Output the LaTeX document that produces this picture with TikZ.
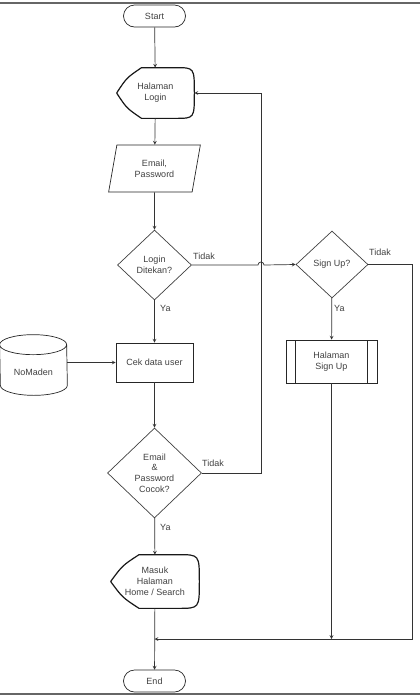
\documentclass[tikz,border=0pt]{standalone}
\usepackage{fontspec}
\setmainfont{Liberation Sans}
\usetikzlibrary{arrows, positioning, shapes.geometric, calc}

\tikzset{
  box/.style={draw=black!85, line width=0.7pt, text=black!75, align=center, inner sep=0pt,
    font=\fontsize{9}{10.8}\selectfont},
  term/.style={box, rectangle, rounded corners=11pt, minimum width=62pt, minimum height=22pt},
  proc/.style={box, rectangle, minimum width=77pt, minimum height=39pt},
  subproc/.style={box, rectangle, minimum width=91pt, minimum height=43pt,
    path picture={\draw[black!85, line width=0.7pt]
      ([xshift=9.5pt]path picture bounding box.north west) -- ([xshift=9.5pt]path picture bounding box.south west)
      ([xshift=-9.5pt]path picture bounding box.north east) -- ([xshift=-9.5pt]path picture bounding box.south east);}},
  decision/.style={box, diamond, draw=black!75},
  io/.style={box, trapezium, trapezium left angle=76, trapezium right angle=104,
    trapezium stretches=true, minimum width=92pt, minimum height=47pt},
  disp/.style={box, draw=none, rectangle},
  lbl/.style={text=black!75, anchor=west, inner sep=0pt, font=\fontsize{9}{10.8}\selectfont},
  line/.style={draw=black!80, line width=0.7pt, >=stealth},
}

% outline of a display shape round a named node
\newcommand{\dispoutline}[1]{%
  \draw[black!90, line width=1.2pt]
    (#1.west) .. controls ($(#1.west)!0.5!($(#1.north west)!0.32!(#1.north east)$)+(-2.5,-2.5)$)
      .. ($(#1.north west)!0.32!(#1.north east)$)
    -- ($(#1.north west)!0.76!(#1.north east)$) .. controls (#1.north east) .. (#1.east)
    .. controls (#1.south east) .. ($(#1.south west)!0.76!(#1.south east)$)
    -- ($(#1.south west)!0.32!(#1.south east)$)
    .. controls ($(#1.west)!0.5!($(#1.south west)!0.32!(#1.south east)$)+(-2.5,2.5)$) .. (#1.west);
}

\begin{document}
\begin{tikzpicture}[x=1pt, y=-1pt]
\useasboundingbox (0,0) rectangle (420,697);
\draw[black!60, line width=1.5pt] (0,3) -- (420,3) (0,694) -- (420,694);

\node[term] (start) at (154.5,16) {Start};
\node[disp, minimum width=77pt, minimum height=50pt] (login) at (155.5,93) {Halaman\\Login};
\dispoutline{login}
\node[io] (cred) at (154.5,168.5) {Email,\\Password};
\node[decision, minimum width=74pt, minimum height=70pt] (ditekan) at (154.5,265) {Login\\Ditekan?};
\node[decision, minimum width=72pt, minimum height=67pt] (signup) at (332,264.5) {Sign Up?};
\node[subproc] (supage) at (331.5,361.5) {Halaman\\Sign Up};
\node[disp, minimum width=67pt, minimum height=60pt,
  label={[lbl, anchor=center, yshift=-7pt]center:NoMaden}] (db) at (33.5,365) {};
\node[proc] (cek) at (154.5,362.5) {Cek data user};
\node[decision, minimum width=94pt, minimum height=90pt] (cocok) at (154.5,473) {Email\\\&\\Password\\Cocok?};
\node[disp, minimum width=88pt, minimum height=53pt] (masuk) at (155,581.5) {Masuk\\Halaman\\Home / Search};
\dispoutline{masuk}
\node[term] (stop) at (154.5,681) {End};

% database cylinder
\draw[black!85, line width=0.7pt]
  ([yshift=-10pt]db.north west) arc[start angle=180, end angle=0, x radius=33.5pt, y radius=10pt]
  -- ([yshift=10pt]db.south east) arc[start angle=0, end angle=-180, x radius=33.5pt, y radius=10pt]
  -- cycle
  ([yshift=-10pt]db.north west) arc[start angle=180, end angle=360, x radius=33.5pt, y radius=10pt];

\coordinate (vline) at (261,93);
\coordinate (rc) at (412,639);
\coordinate (merge) at (154.5,639);

\draw[line, ->] (start) -- (login);
\draw[line, ->] (login) -- (cred);
\draw[line, ->] (cred) -- (ditekan);
\draw[line, ->] (ditekan) -- (cek);
\draw[line, ->] (db.east |- cek) -- (cek);
\draw[line, ->] (cek) -- (cocok);
\draw[line, ->] (cocok) -- (masuk);
\draw[line, ->] (masuk) -- (stop);
\draw[line, ->] (ditekan.east) -- ($(ditekan.east -| vline)+(-3,0)$)
  arc[start angle=180, end angle=0, radius=3pt] -- (signup.west);
\draw[line, ->] (cocok.east) -| (vline) -- (login.east);
\draw[line, ->] (signup) -- (supage);
\draw[line, ->] (signup.east) -| (rc) -- (merge);
\draw[line, ->] (supage) -- (supage |- merge);

\node[lbl] (tidak1) at (193,256) {Tidak};
\node[lbl] (ya1) at (160,308) {Ya};
\node[lbl] (tidak2) at (369,252) {Tidak};
\node[lbl] (ya2) at (334,308) {Ya};
\node[lbl] (tidak3) at (202,463) {Tidak};
\node[lbl] (ya3) at (160,527) {Ya};
\end{tikzpicture}
\end{document}
